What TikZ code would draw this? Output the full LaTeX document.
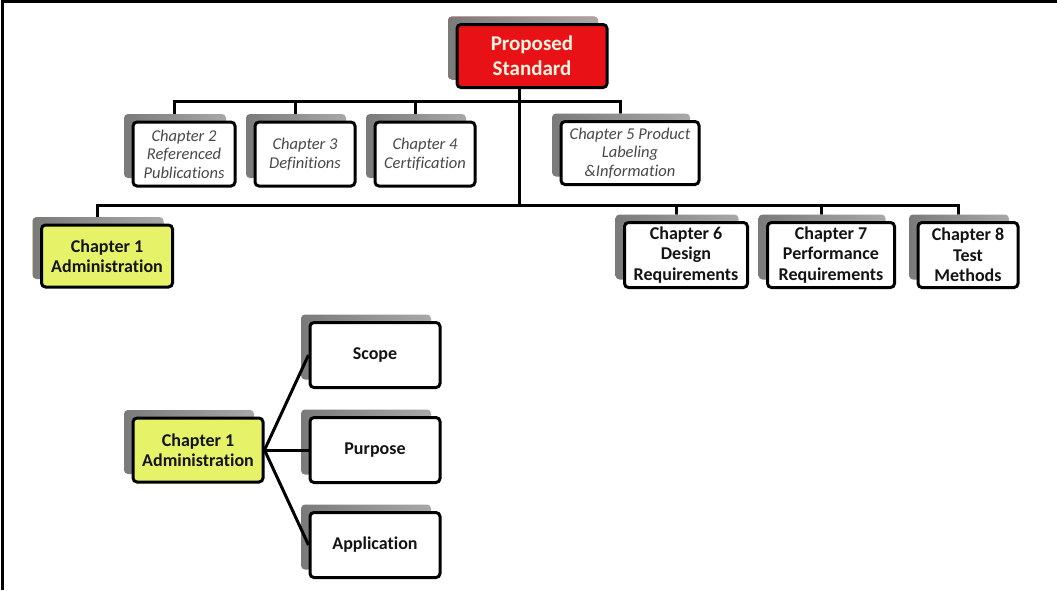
\documentclass[tikz,border=0pt]{standalone}
\usepackage{fontspec}
\setmainfont{Carlito}[Ligatures=NoCommon]
\usetikzlibrary{shadows,calc}
\definecolor{redfill}{RGB}{232,18,22}
\definecolor{yel}{RGB}{230,242,104}
\definecolor{ittext}{RGB}{72,72,72}
\definecolor{pstext}{RGB}{250,244,225}
\tikzset{
  box/.style={draw=black, line width=3pt, rounded corners=4pt, fill=white,
    align=center, inner sep=1pt, text=black!92,
    font=\bfseries\fontsize{18}{20.5}\selectfont,
    copy shadow={shadow xshift=-9pt, shadow yshift=8pt, draw=none,
      left color=black!52, right color=black!34}},
  itbox/.style={box, font=\itshape\fontsize{16.5}{18.5}\selectfont, text=ittext},
  conn/.style={draw=black, line width=3pt},
  frame/.style={draw=black, line width=3pt}
}
\begin{document}
\begin{tikzpicture}[x=1pt,y=-1pt]
\useasboundingbox (0,0) rectangle (1057,590);
\fill[white] (0,0) rectangle (1057,590);
\draw[frame] (2,590) -- (2,1.5) -- (1057,1.5);

% junctions
\coordinate (j1) at (519,101);
\coordinate (j2) at (519,205);

% node positions
\path
  (532,56)  coordinate (pspos)
  (184,154) coordinate (c2pos)
  (305,154) coordinate (c3pos)
  (425,154) coordinate (c4pos)
  (630,153) coordinate (c5pos)
  (107,256) coordinate (c1pos)
  (686,255) coordinate (c6pos)
  (831,255) coordinate (c7pos)
  (968,255) coordinate (c8pos);

% drop points (top centre of shadows)
\coordinate (t2) at ($(c2pos)+(-10pt,40pt)$);
\coordinate (t3) at ($(c3pos)+(-10pt,40pt)$);
\coordinate (t4) at ($(c4pos)+(-10pt,40pt)$);
\coordinate (t5) at ($(c5pos)+(-10pt,39.5pt)$);
\coordinate (t1) at ($(c1pos)+(-10pt,39pt)$);
\coordinate (t6) at ($(c6pos)+(-10pt,40.5pt)$);
\coordinate (t7) at ($(c7pos)+(-10pt,40.5pt)$);
\coordinate (t8) at ($(c8pos)+(-10pt,40.5pt)$);
\coordinate (pst) at (519,88);

% connectors of the tree
\draw[conn] (pst) -- (j2);
\draw[conn] (t2) |- (j1) -| (t5);
\draw[conn] (t3) -- (t3 |- j1);
\draw[conn] (t4) -- (t4 |- j1);
\draw[conn] (t1) |- (j2) -| (t8);
\draw[conn] (t6) -- (t6 |- j2);
\draw[conn] (t7) -- (t7 |- j2);

% boxes
\node[box, fill=redfill, text=pstext, minimum width=150pt, minimum height=63pt,
  font=\bfseries\fontsize{21}{25}\selectfont] (ps) at (pspos) {Proposed\\Standard};
\node[itbox, minimum width=102pt, minimum height=64pt] (c2) at (c2pos) {Chapter 2\\Referenced\\Publications};
\node[itbox, minimum width=100pt, minimum height=64pt] (c3) at (c3pos) {Chapter 3\\Definitions};
\node[itbox, minimum width=100pt, minimum height=64pt] (c4) at (c4pos) {Chapter 4\\Certification};
\node[itbox, minimum width=138pt, minimum height=63pt] (c5) at (c5pos) {Chapter 5 Product\\Labeling\\\&Information};
\node[box, fill=yel, minimum width=131pt, minimum height=62pt] (c1) at (c1pos) {Chapter 1\\Administration};
\node[box, minimum width=123pt, minimum height=65pt] (c6) at (c6pos) {Chapter 6\\Design\\Requirements};
\node[box, minimum width=127pt, minimum height=65pt] (c7) at (c7pos) {Chapter 7\\Performance\\Requirements};
\node[box, minimum width=100pt, minimum height=65pt] (c8) at (c8pos) {Chapter 8\\Test\\Methods};

% lower detail
\node[box, fill=yel, minimum width=130pt, minimum height=64pt] (a1) at (198,450) {Chapter 1\\Administration};
\node[box, minimum width=130pt, minimum height=65pt] (scope) at (375,355) {Scope};
\node[box, minimum width=130pt, minimum height=65pt] (purpose) at (375,450) {Purpose};
\node[box, minimum width=130pt, minimum height=65pt] (appl) at (375,545) {Application};

\draw[conn] (a1.east) -- (scope.west);
\draw[conn] (a1.east) -- (purpose.west);
\draw[conn] (a1.east) -- (appl.west);
\end{tikzpicture}
\end{document}
